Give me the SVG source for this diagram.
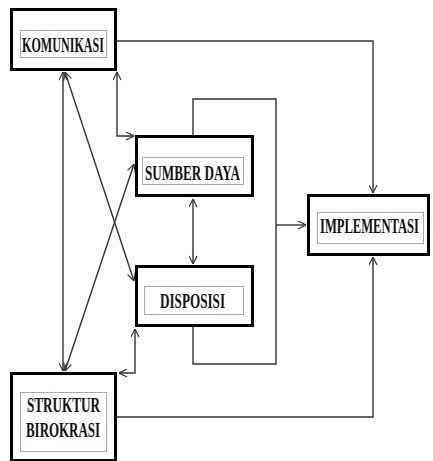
<svg xmlns="http://www.w3.org/2000/svg" width="433" height="461" viewBox="0 0 433 461">
<defs>
<style>
.box{fill:#fff;stroke:#000;stroke-width:3}
.dot{fill:none;stroke:#555;stroke-width:1;stroke-dasharray:1,1}
.lbl{font-family:"Liberation Serif","Times New Roman",serif;font-size:22px;font-weight:bold;fill:#111}
.c{fill:none;stroke:#333;stroke-width:1.4}
</style>
<marker id="a" viewBox="0 0 10 10" refX="10" refY="5" markerWidth="9" markerHeight="9" markerUnits="userSpaceOnUse" orient="auto-start-reverse">
<path d="M1,0.5 L10,5 L1,9.5" fill="none" stroke="#333" stroke-width="1.3"/>
</marker>
</defs>
<rect width="433" height="461" fill="#fff"/>
<g id="connectors">
<path class="c" d="M117,41 H373 V193" marker-end="url(#a)"/>
<path class="c" d="M117,417 H373 V257" marker-end="url(#a)"/>
<path class="c" d="M117,72 V136 H134" marker-start="url(#a)" marker-end="url(#a)"/>
<path class="c" d="M193,135 V99 H276 V364 H193 V327"/>
<path class="c" d="M276,225 H306" marker-end="url(#a)"/>
<path class="c" d="M193,199 V264" marker-start="url(#a)" marker-end="url(#a)"/>
<path class="c" d="M63,72 V371" marker-start="url(#a)" marker-end="url(#a)"/>
<path class="c" d="M65,72 L134,281" marker-start="url(#a)" marker-end="url(#a)"/>
<path class="c" d="M65,371 L134,164" marker-start="url(#a)" marker-end="url(#a)"/>
<path class="c" d="M119,373 H135 V329" marker-start="url(#a)" marker-end="url(#a)"/>
</g>
<g id="komunikasi">
<rect class="box" x="11.5" y="9.5" width="104" height="60"/>
<rect class="dot" x="20.5" y="30.5" width="86" height="27"/>
<text class="lbl" x="22" y="52" textLength="82" lengthAdjust="spacingAndGlyphs">KOMUNIKASI</text>
</g>
<g id="sumber-daya">
<rect class="box" x="136.5" y="136.5" width="116" height="59"/>
<rect class="dot" x="142.5" y="157.5" width="101" height="27"/>
<text class="lbl" x="145" y="180" textLength="95" lengthAdjust="spacingAndGlyphs">SUMBER DAYA</text>
</g>
<g id="disposisi">
<rect class="box" x="136.5" y="266.5" width="116" height="59"/>
<rect class="dot" x="144.5" y="286.5" width="99" height="28"/>
<text class="lbl" x="160" y="308" textLength="65" lengthAdjust="spacingAndGlyphs">DISPOSISI</text>
</g>
<g id="implementasi">
<rect class="box" x="308.5" y="195.5" width="120" height="59"/>
<rect class="dot" x="317.5" y="212.5" width="106" height="31"/>
<text class="lbl" transform="translate(320,233) scale(0.57,1)" x="0" y="0" textLength="173.7" lengthAdjust="spacingAndGlyphs">IMPLEMENTASI</text>
</g>
<g id="struktur-birokrasi">
<rect class="box" x="11.5" y="373.5" width="104" height="87"/>
<rect class="dot" x="20.5" y="392.5" width="86" height="59"/>
<text class="lbl" x="27" y="412" textLength="73" lengthAdjust="spacingAndGlyphs">STRUKTUR</text>
<text class="lbl" x="26" y="437" textLength="74" lengthAdjust="spacingAndGlyphs">BIROKRASI</text>
</g>
</svg>
